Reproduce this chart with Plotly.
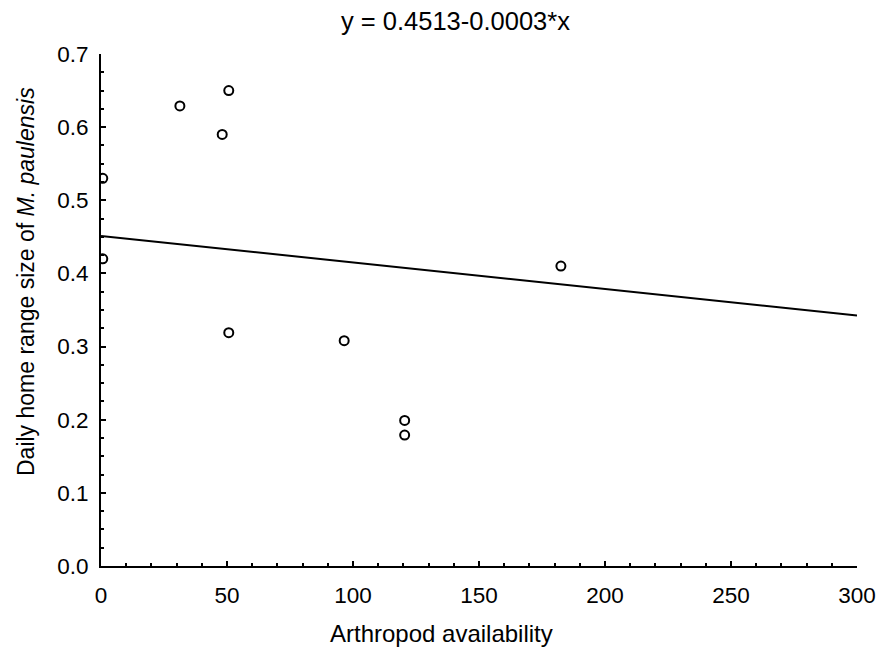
import plotly.graph_objects as go

# Data
arthropod = [0.7, 0.7, 31.3, 48.1, 50.7, 50.7, 96.5, 120.5, 120.5, 182.5]
home_range = [0.530, 0.420, 0.629, 0.590, 0.650, 0.319, 0.308, 0.199, 0.179, 0.410]

fit_x = [0, 300]
fit_y = [0.4513, 0.3425]

title_text = "y = 0.4513-0.0003*x"
x_title = "Arthropod availability"
y_title = "Daily home range size of <i>M. paulensis</i>"

x_ticks = [0, 50, 100, 150, 200, 250, 300]
y_ticks = [0.0, 0.1, 0.2, 0.3, 0.4, 0.5, 0.6, 0.7]
y_ticklabels = ["0.0", "0.1", "0.2", "0.3", "0.4", "0.5", "0.6", "0.7"]

FONT = "Liberation Sans, Arial, sans-serif"

fig = go.Figure()
fig.add_trace(go.Scatter(
    x=fit_x, y=fit_y, mode="lines",
    line=dict(color="black", width=2), showlegend=False, hoverinfo="skip",
))
fig.add_trace(go.Scatter(
    x=arthropod, y=home_range, mode="markers",
    marker=dict(symbol="circle-open", size=9, color="black", line=dict(width=2)),
    showlegend=False, cliponaxis=True,
))

W, H = 881, 654
ml, mr, mt, mb = 101, 24, 54, 88

fig.update_layout(
    template="none",
    width=W, height=H,
    margin=dict(l=ml, r=mr, t=mt, b=mb, pad=0, autoexpand=False),
    paper_bgcolor="white", plot_bgcolor="white",
    font=dict(family=FONT, size=22, color="black"),
    xaxis=dict(
        range=[0, 300], tickvals=x_ticks, showgrid=False, zeroline=False, automargin=False,
        showline=True, linecolor="black", linewidth=2,
        ticks="inside", ticklen=5, tickwidth=2, tickcolor="black",
        minor=dict(dtick=10, ticks="inside", ticklen=3, tickwidth=2, tickcolor="black", showgrid=False),
        tickfont=dict(size=22.5), ticklabelstandoff=8,
    ),
    yaxis=dict(
        range=[0, 0.7], tickvals=y_ticks, ticktext=y_ticklabels, showgrid=False, zeroline=False,
        automargin=False,
        showline=True, linecolor="black", linewidth=2,
        ticks="inside", ticklen=5, tickwidth=2, tickcolor="black",
        minor=dict(dtick=0.025, ticks="inside", ticklen=3, tickwidth=2, tickcolor="black", showgrid=False),
        tickfont=dict(size=22.5), ticklabelstandoff=6,
    ),
    annotations=[
        dict(text=title_text, xref="paper", yref="paper", x=(455 - ml) / 756, y=1,
             yshift=17, xanchor="center", yanchor="bottom", showarrow=False,
             font=dict(size=25.5)),
        dict(text=x_title, xref="paper", yref="paper", x=(441 - ml) / 756, y=0,
             yshift=-52, xanchor="center", yanchor="top", showarrow=False,
             font=dict(size=24)),
        dict(text=y_title, xref="paper", yref="paper", x=(26 - ml) / 756,
             y=(566 - 282) / 512, xanchor="center", yanchor="middle", textangle=-90,
             showarrow=False, font=dict(size=23)),
    ],
)

fig.write_html("out.html", config={"displayModeBar": False},
               post_script="document.body.style.margin='0';document.body.style.overflow='hidden';")
